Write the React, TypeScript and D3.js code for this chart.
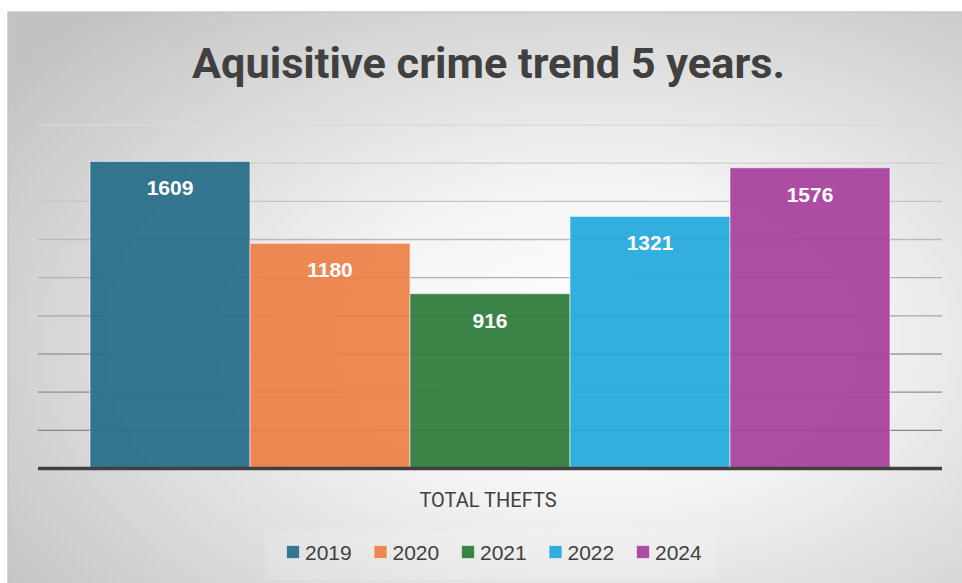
import React from "react";
import * as d3 from "d3";

const years = ["2019", "2020", "2021", "2022", "2024"];
const thefts = [1609, 1180, 916, 1321, 1576];
const colors = ["#256B88", "#EE7F44", "#2D7A3A", "#22A8DC", "#A63F9C"];
const yTicks = [0, 200, 400, 600, 800, 1000, 1200, 1400, 1600, 1800];
const category = "TOTAL THEFTS";
const title = "Aquisitive crime trend 5 years.";

const W = 962;
const H = 583;

export default function App() {
  const y = d3.scaleLinear().domain([0, 1800]).range([468.5, 125]);
  const x = d3.scaleBand().domain(years).range([90, 890]).padding(0);
  const gridColor = d3.interpolateRgb("#dadada", "#858585");
  const legendX = d3.scalePoint().domain(years).range([286, 636]);

  return (
    <svg
      width={W}
      height={H}
      style={{ position: "absolute", left: 0, top: 0, display: "block" }}
      fontFamily="'Liberation Sans', Arial, sans-serif"
    >
      <defs>
        <radialGradient id="bg" cx="0.6" cy="0.55" r="0.75" fx="0.6" fy="0.55">
          <stop offset="0" stopColor="#ffffff" />
          <stop offset="0.35" stopColor="#f4f4f4" />
          <stop offset="1" stopColor="#c2c2c2" />
        </radialGradient>
      </defs>
      <rect x={0} y={0} width={W} height={H} fill="#ffffff" />
      <rect x={8} y={12} width={980} height={600} fill="url(#bg)" stroke="#c4c4c4" strokeWidth={1.3} />

      <text
        x={488.5}
        y={78}
        textAnchor="middle"
        fontFamily="Roboto, 'Liberation Sans', sans-serif"
        fontWeight="bold"
        fontSize={43}
        fill="#404040"
        textLength={593}
        lengthAdjust="spacingAndGlyphs"
      >
        {title}
      </text>

      {yTicks.slice(1).map((t, i) => (
        <line
          key={t}
          x1={38}
          x2={942}
          y1={y(t)}
          y2={y(t)}
          stroke={gridColor(1 - i / (yTicks.length - 2))}
          strokeWidth={1.3}
        />
      ))}

      {years.map((yr, i) => (
        <g key={yr}>
          <rect
            x={x(yr)}
            y={y(thefts[i])}
            width={x.bandwidth()}
            height={y(0) - y(thefts[i])}
            fill={colors[i]}
            fillOpacity={0.92}
            stroke="#ffffff"
            strokeOpacity={0.55}
            strokeWidth={1}
          />
          <text
            x={(x(yr) as number) + x.bandwidth() / 2}
            y={y(thefts[i]) + 34}
            textAnchor="middle"
            fontWeight="bold"
            fontSize={21}
            fill="#ffffff"
          >
            {thefts[i]}
          </text>
        </g>
      ))}

      <line x1={38} x2={942} y1={y(0)} y2={y(0)} stroke="#404040" strokeWidth={3.5} />

      <text x={488} y={507} textAnchor="middle" fontFamily="Roboto, 'Liberation Sans', sans-serif" fontSize={20} fill="#404040">
        {category}
      </text>

      <rect x={265} y={530} width={452} height={50} fill="#ffffff" fillOpacity={0.15} />
      {years.map((yr, i) => (
        <g key={"lg" + yr} transform={`translate(${legendX(yr)},0)`}>
          <rect
            x={0.5}
            y={545.5}
            width={13}
            height={13}
            fill={colors[i]}
            fillOpacity={0.92}
            stroke="#ffffff"
            strokeOpacity={0.55}
            strokeWidth={1}
          />
          <text x={19} y={560} fontSize={21} fill="#404040">
            {yr}
          </text>
        </g>
      ))}
    </svg>
  );
}
